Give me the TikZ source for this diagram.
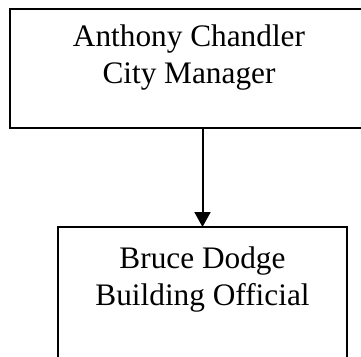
\documentclass[tikz,border=0pt]{standalone}
\usepackage{fontspec}
\setmainfont{Liberation Serif}
\usepackage{tikz}
\usetikzlibrary{arrows.meta,positioning}

\begin{document}
\begin{tikzpicture}[
orgbox/.style={draw, line width=2pt, inner sep=0pt, outer sep=0pt, align=center, font=\fontsize{31.3}{37}\selectfont},
arr/.style={-{Triangle[length=15pt, width=16pt]}, line width=2pt}
]
\useasboundingbox (0pt,0pt) rectangle (361pt,-356pt);
% Boxes
\node[orgbox, anchor=north, minimum width=358pt, text height=74pt, text depth=45pt] (mgr) at (189pt,-9pt) {Anthony Chandler\\City Manager};
\node[orgbox, below=99pt of mgr, xshift=13.5pt, minimum width=289pt, text height=78pt, text depth=57pt] (bo) {Bruce Dodge\\Building Official};

% Reporting line
\draw[arr] (mgr.south -| bo.north) -- (bo.north);
\end{tikzpicture}
\end{document}
